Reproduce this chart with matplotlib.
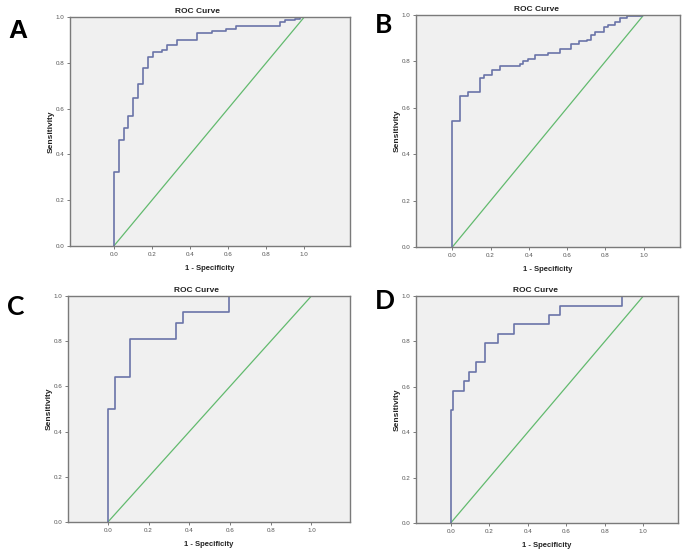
import matplotlib
matplotlib.use("Agg")
import matplotlib.pyplot as plt

# step-curve vertices (1 - specificity, sensitivity)
fpr_a = [0.0, 0.0, 0.026, 0.051, 0.077, 0.102, 0.128, 0.154, 0.179, 0.205, 0.254,
         0.281, 0.333, 0.439, 0.514, 0.591, 0.644, 0.872, 0.898, 0.951, 0.975, 1.0]
tpr_a = [0.0, 0.322, 0.464, 0.515, 0.566, 0.646, 0.707, 0.777, 0.825, 0.847, 0.857,
         0.876, 0.898, 0.930, 0.940, 0.949, 0.959, 0.978, 0.988, 0.993, 1.0, 1.0]

fpr_b = [0.0, 0.0, 0.038, 0.082, 0.143, 0.164, 0.207, 0.247, 0.352, 0.369, 0.395,
         0.434, 0.498, 0.561, 0.622, 0.660, 0.704, 0.726, 0.747, 0.791, 0.814,
         0.852, 0.875, 0.913, 0.992, 1.0]
tpr_b = [0.0, 0.542, 0.650, 0.668, 0.730, 0.740, 0.763, 0.780, 0.788, 0.802, 0.812,
         0.827, 0.838, 0.853, 0.877, 0.886, 0.893, 0.915, 0.925, 0.947, 0.957,
         0.971, 0.986, 0.997, 1.0, 1.0]

fpr_c = [0.0, 0.0, 0.037, 0.111, 0.333, 0.370, 0.593, 1.0]
tpr_c = [0.0, 0.500, 0.643, 0.810, 0.881, 0.929, 1.0, 1.0]

fpr_d = [0.0, 0.0, 0.012, 0.068, 0.096, 0.134, 0.178, 0.247, 0.331, 0.512, 0.566, 0.889, 1.0]
tpr_d = [0.0, 0.500, 0.583, 0.625, 0.667, 0.708, 0.792, 0.833, 0.875, 0.917, 0.958, 1.0, 1.0]

ticks = [0.0, 0.2, 0.4, 0.6, 0.8, 1.0]
tick_labels = ["0.0", "0.2", "0.4", "0.6", "0.8", "1.0"]

CURVE_COLOR = "#6a74a8"
DIAG_COLOR = "#62ba6e"
BG_COLOR = "#f0f0f0"
FRAME_COLOR = "#7a7a7a"
FONT = "Liberation Sans"

# axes boxes in figure fractions, x limits and panel letters
panels = [
    (fpr_a, tpr_a, [0.1022, 0.5543, 0.4088, 0.4149], (-0.23, 1.24), "A", (0.012, 0.944), FONT),
    (fpr_b, tpr_b, [0.6073, 0.5525, 0.3854, 0.4203], (-0.19, 1.19), "B", (0.547, 0.955), "Lato"),
    (fpr_c, tpr_c, [0.0993, 0.0543, 0.4117, 0.4094], (-0.196, 1.19), "C", (0.010, 0.444), "Lato"),
    (fpr_d, tpr_d, [0.6073, 0.0525, 0.3825, 0.4112], (-0.18, 1.18), "D", (0.547, 0.455), "Lato"),
]

fig = plt.figure(figsize=(6.85, 5.52), dpi=100)

for fpr, tpr, box, xlim, letter, lpos, lfont in panels:
    ax = fig.add_axes(box)
    ax.set_facecolor(BG_COLOR)

    # reference diagonal and the ROC step curve
    ax.plot([0, 1], [0, 1], color=DIAG_COLOR, lw=0.9)
    ax.step(fpr, tpr, where="post", color=CURVE_COLOR, lw=1.2)

    ax.set_xlim(*xlim)
    ax.set_ylim(0, 1)
    ax.set_xticks(ticks)
    ax.set_xticklabels(tick_labels)
    ax.set_yticks(ticks)
    ax.set_yticklabels(tick_labels)
    ax.tick_params(length=2, width=0.7, color=FRAME_COLOR, labelsize=4.5,
                   labelcolor="#555555", pad=2)
    for lab in ax.get_xticklabels() + ax.get_yticklabels():
        lab.set_fontfamily(FONT)
    for sp in ax.spines.values():
        sp.set_color(FRAME_COLOR)
        sp.set_linewidth(1.0)

    ax.set_title("ROC Curve", fontsize=6, fontweight="bold", family=FONT,
                 color="#222222", x=0.457, pad=3)
    ax.set_xlabel("1 - Specificity", fontsize=5.5, fontweight="bold", family=FONT,
                  color="#222222", labelpad=6)
    ax.set_ylabel("Sensitivity", fontsize=6, fontweight="bold", family=FONT,
                  color="#222222", labelpad=1)

    fig.text(lpos[0], lpos[1], letter, fontsize=19, fontweight="bold",
             family=lfont, color="black", va="center", ha="left")

fig.savefig("out.png", dpi=100)
